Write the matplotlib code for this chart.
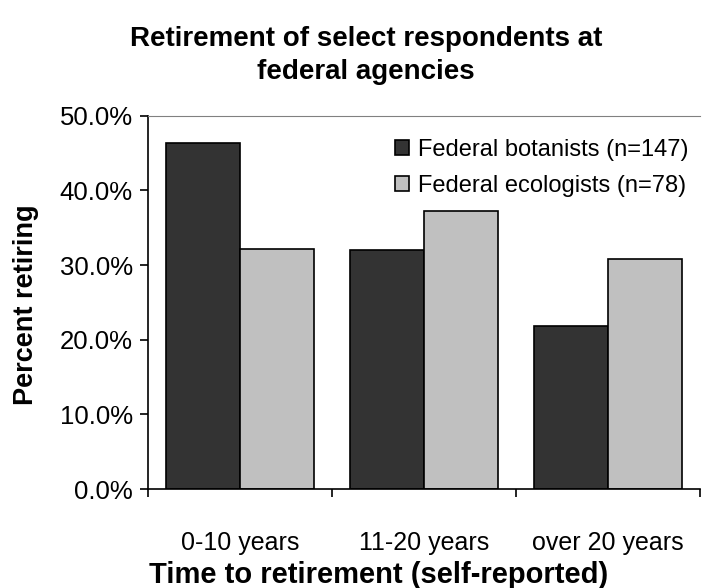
import numpy as np
import matplotlib.pyplot as plt
from matplotlib.ticker import FuncFormatter, FixedLocator

plt.rcParams['font.family'] = ['Liberation Sans', 'DejaVu Sans']

# retirement horizon groups and share of respondents (%)
groups = ['0-10 years', '11-20 years', 'over 20 years']
botanists = [46.3, 32.0, 21.8]   # n=147
ecologists = [32.1, 37.2, 30.8]  # n=78
series_names = ['Federal botanists (n=147)', 'Federal ecologists (n=78)']

fig = plt.figure(figsize=(7.03, 5.88), dpi=100)
ax = fig.add_axes([0.2105, 0.168, 0.7852, 0.6355])

x = np.arange(len(groups))
w = 0.4
ax.bar(x - w/2, botanists, w, color='#333333', edgecolor='black', linewidth=1.2,
       label=series_names[0])
ax.bar(x + w/2, ecologists, w, color='#c0c0c0', edgecolor='black', linewidth=1.2,
       label=series_names[1])

ax.set_xlim(-0.5, len(groups) - 0.5)
ax.set_ylim(0, 50)
ax.set_yticks(np.arange(0, 51, 10))
ax.yaxis.set_major_formatter(FuncFormatter(lambda v, p: '%.1f%%' % v))
ax.set_xticks(x)
ax.set_xticklabels(groups)
ax.xaxis.set_minor_locator(FixedLocator(np.arange(-0.5, len(groups), 1.0)))
ax.tick_params(axis='x', which='major', length=0, labelsize=18, pad=30)
ax.tick_params(axis='x', which='minor', length=6, width=1.2, direction='out')
ax.tick_params(axis='y', length=6, width=1.2, direction='out', labelsize=18.5, pad=5)

ax.spines['right'].set_visible(False)
ax.spines['top'].set_color('#808080')
ax.spines['left'].set_linewidth(1.2)
ax.spines['bottom'].set_linewidth(1.2)

fig.text(0.037, 0.481, 'Percent retiring', rotation=90, ha='center', va='center',
         fontsize=19.5, fontweight='bold')
fig.text(0.538, 0.022, 'Time to retirement (self-reported)', ha='center',
         va='center', fontsize=21, fontweight='bold')
fig.text(0.521, 0.905, 'Retirement of select respondents at\nfederal agencies',
         ha='center', va='center', fontsize=20, fontweight='bold', linespacing=1.35)

ax.legend(loc='upper right', bbox_to_anchor=(1.0, 0.97), frameon=False,
          fontsize=17, handlelength=0.6, handleheight=0.6, handletextpad=0.35,
          labelspacing=0.6, borderaxespad=0.1)

fig.savefig('out.png', dpi=100)
